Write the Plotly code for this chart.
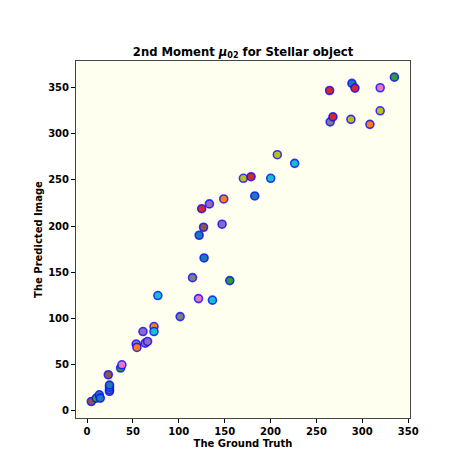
import plotly.graph_objects as go

# Data
ground_truth = [4.7, 10.1, 13.4, 14.5, 24.5, 24.5, 24.5, 24.5, 23.2, 36.6, 38.0,
                53.6, 54.4, 61.0, 63.4, 66.0, 73.0, 73.0, 77.2, 101.5, 115.0,
                121.5, 136.7, 155.6, 122.2, 127.6, 127.0, 125.0, 133.4, 147.2,
                149.0, 170.4, 178.8, 182.8, 200.2, 207.4, 226.3, 264.4, 265.0,
                268.0, 287.6, 288.7, 292.0, 308.3, 319.5, 319.5, 335.0]
predicted = [9.7, 13.4, 17.0, 13.4, 20.6, 22.5, 25.4, 27.5, 38.7, 46.0, 49.5,
             72.0, 68.3, 85.6, 73.0, 74.8, 91.0, 85.6, 124.6, 101.8, 144.0,
             121.3, 119.6, 140.8, 190.0, 165.4, 198.7, 218.8, 224.0, 202.0,
             229.4, 251.8, 253.5, 232.6, 251.8, 277.4, 268.0, 347.0, 313.0,
             318.5, 315.7, 354.7, 349.6, 310.3, 325.0, 350.0, 361.5]
point_color = ["brown", "green", "blue", "blue", "purple", "blue", "cyan", "blue",
               "brown", "green", "pink", "purple", "orange", "purple", "purple",
               "purple", "orange", "cyan", "cyan", "gray", "gray", "pink", "cyan",
               "green", "blue", "blue", "brown", "red", "purple", "purple",
               "orange", "olive", "red", "blue", "cyan", "olive", "cyan", "red",
               "gray", "red", "olive", "blue", "red", "orange", "olive", "pink",
               "green"]
ticks = [0, 50, 100, 150, 200, 250, 300, 350]

palette = {"blue": "#1f77b4", "orange": "#ff7f0e", "green": "#2ca02c",
           "red": "#d62728", "purple": "#9467bd", "brown": "#8c564b",
           "pink": "#e377c2", "gray": "#7f7f7f", "olive": "#bcbd22",
           "cyan": "#17becf"}

W, H = 462, 467
OFF = 8  # page body margin offset
L, T = 76 - OFF, 61 - OFF
R = W - (410 - OFF)
B = H - (418 - OFF)

fig = go.Figure()
fig.add_trace(go.Scatter(
    x=ground_truth, y=predicted, mode="markers",
    marker=dict(size=8, color=[palette[c] for c in point_color],
                line=dict(color="rgba(10,10,255,0.8)", width=1.6)),
    showlegend=False, hoverinfo="x+y"))

axis_common = dict(showgrid=False, zeroline=False, showline=True, mirror=True,
                   linecolor="#444", linewidth=1, ticks="outside", ticklen=4,
                   tickwidth=1, tickcolor="#000", tickvals=ticks,
                   tickfont=dict(family="DejaVu Sans", size=10, color="#000",
                                 weight="bold"))

fig.update_layout(
    width=W, height=H,
    margin=dict(l=L, r=R, t=T, b=B, pad=0, autoexpand=False),
    paper_bgcolor="white", plot_bgcolor="#fffff0",
    font=dict(family="DejaVu Sans", color="#000"),
    title=dict(text="<b>2nd Moment <i>μ</i><sub>02</sub> for Stellar object</b>",
               x=0.5, xref="paper", y=1 - (52 - OFF) / H, yref="container",
               xanchor="center", yanchor="middle",
               font=dict(family="DejaVu Sans", size=11.6, color="#000")),
    xaxis=dict(range=[-12, 352], title=dict(text="<b>The Ground Truth</b>",
               standoff=3, font=dict(family="DejaVu Sans", size=10)), **axis_common),
    yaxis=dict(range=[-8.2, 379], title=dict(text="<b>The Predicted Image</b>",
               standoff=3, font=dict(family="DejaVu Sans", size=10)), **axis_common),
)

fig.write_html("out.html")
